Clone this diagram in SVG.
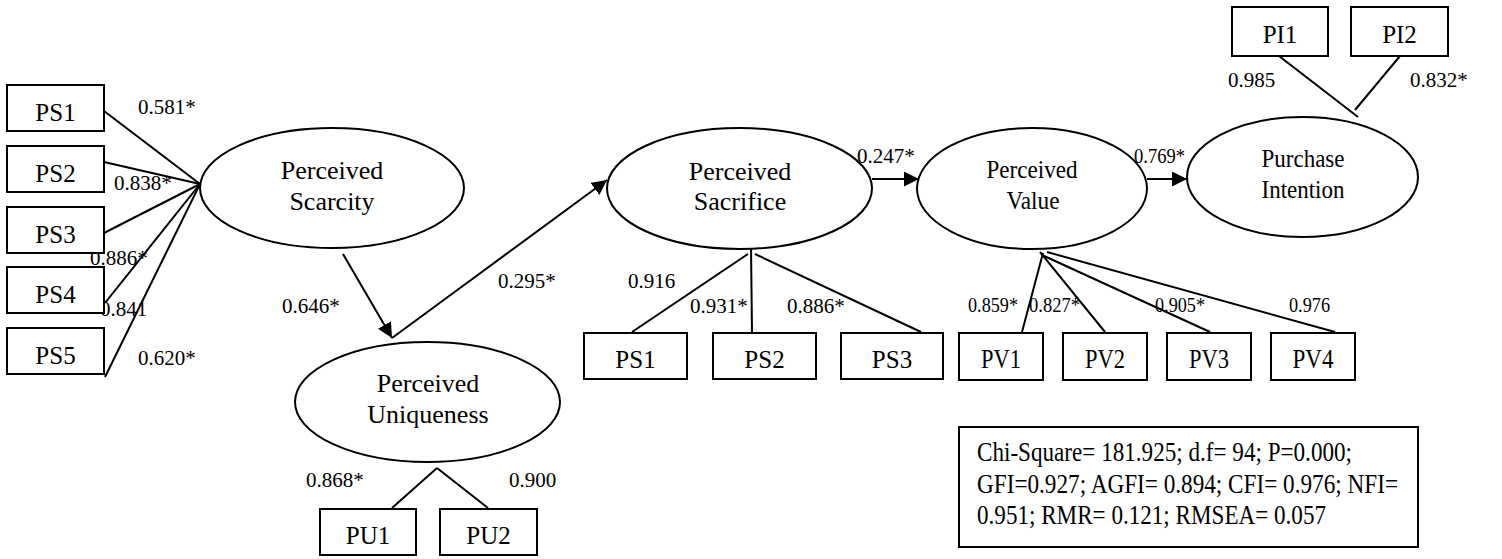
<svg xmlns="http://www.w3.org/2000/svg" width="1502" height="559" viewBox="0 0 1502 559">
  <style>
    .box { fill: #fff; stroke: #000; stroke-width: 2; }
    .lat { fill: #fff; stroke: #000; stroke-width: 2; }
    .ln { stroke: #000; stroke-width: 2; fill: none; }
    .arr { stroke: #000; stroke-width: 2; fill: none; marker-end: url(#head); }
    text { font-family: "Liberation Serif", "Times New Roman", serif; fill: #000; }
    .lbl { font-size: 25px; text-anchor: middle; }
    .lbl-n { font-size: 27px; text-anchor: middle; }
    .name { font-size: 26px; text-anchor: middle; }
    .coef { font-size: 21px; }
    .coef-n { font-size: 22px; }
    .fit { font-size: 27px; }
  </style>
  <defs>
    <marker id="head" markerUnits="userSpaceOnUse" markerWidth="15" markerHeight="15" refX="15" refY="7.5" orient="auto">
      <path d="M0,0 L15,7.5 L0,15 z" fill="#000"/>
    </marker>
  </defs>
  <rect width="1502" height="559" fill="#fff"/>

  <!-- loadings and structural paths -->
  <g id="connectors">
    <line class="ln" x1="104" y1="111" x2="200" y2="184"/>
    <line class="ln" x1="104" y1="162" x2="200" y2="184"/>
    <line class="ln" x1="104" y1="233" x2="200" y2="184"/>
    <line class="ln" x1="105" y1="303" x2="200" y2="184"/>
    <line class="ln" x1="105" y1="377" x2="200" y2="184"/>

    <line class="arr" x1="343" y1="254" x2="392" y2="338"/>
    <line class="arr" x1="392" y1="338" x2="607" y2="180"/>
    <line class="arr" x1="872" y1="179" x2="919" y2="179"/>
    <line class="arr" x1="1147" y1="179" x2="1187" y2="179"/>

    <line class="ln" x1="437" y1="468" x2="392" y2="508"/>
    <line class="ln" x1="437" y1="468" x2="488" y2="508"/>

    <line class="ln" x1="748" y1="254" x2="632" y2="332"/>
    <line class="ln" x1="751" y1="247" x2="752" y2="332"/>
    <line class="ln" x1="755" y1="254" x2="921" y2="332"/>

    <line class="ln" x1="1043" y1="253" x2="1022" y2="332"/>
    <line class="ln" x1="1040" y1="252" x2="1105" y2="332"/>
    <line class="ln" x1="1042" y1="255" x2="1210" y2="332"/>
    <line class="ln" x1="1047" y1="252" x2="1335" y2="332"/>

    <line class="ln" x1="1279" y1="56" x2="1358" y2="117"/>
    <line class="ln" x1="1400" y1="56" x2="1355" y2="110"/>
  </g>

  <!-- coefficients -->
  <g id="coefficients" class="coef">
    <text x="138" y="114">0.581*</text>
    <text x="114" y="190">0.838*</text>
    <text x="90" y="265">0.886*</text>
    <text x="100" y="316">0.841</text>
    <text x="138" y="365">0.620*</text>
    <text x="282" y="313">0.646*</text>
    <text x="498" y="288">0.295*</text>
    <text x="306" y="487">0.868*</text>
    <text x="509" y="487">0.900</text>
    <text x="628" y="288">0.916</text>
    <text x="690" y="313">0.931*</text>
    <text x="787" y="313">0.886*</text>
    <text x="857" y="163">0.247*</text>
    <text x="1134" y="163" textLength="51" lengthAdjust="spacingAndGlyphs">0.769*</text>
    <text x="1228" y="87">0.985</text>
    <text x="1410" y="87">0.832*</text>
    <text class="coef-n" x="968" y="312" textLength="50" lengthAdjust="spacingAndGlyphs">0.859*</text>
    <text class="coef-n" x="1029" y="312" textLength="51" lengthAdjust="spacingAndGlyphs">0.827*</text>
    <text class="coef-n" x="1155" y="312" textLength="50" lengthAdjust="spacingAndGlyphs">0.905*</text>
    <text class="coef-n" x="1289" y="312" textLength="41" lengthAdjust="spacingAndGlyphs">0.976</text>
  </g>

  <!-- Perceived Scarcity indicators -->
  <g id="ps1"><rect class="box" x="7" y="85" width="97" height="46"/><text class="lbl" x="55.5" y="121">PS1</text></g>
  <g id="ps2"><rect class="box" x="7" y="146" width="97" height="46"/><text class="lbl" x="55.5" y="182">PS2</text></g>
  <g id="ps3"><rect class="box" x="7" y="207" width="97" height="46"/><text class="lbl" x="55.5" y="243">PS3</text></g>
  <g id="ps4"><rect class="box" x="7" y="267" width="97" height="46"/><text class="lbl" x="55.5" y="303">PS4</text></g>
  <g id="ps5"><rect class="box" x="7" y="328" width="97" height="46"/><text class="lbl" x="55.5" y="364">PS5</text></g>

  <!-- latent constructs -->
  <g id="scarcity">
    <ellipse class="lat" cx="332" cy="188" rx="132" ry="60"/>
    <text class="name" x="332" y="179">Perceived</text>
    <text class="name" x="332" y="210">Scarcity</text>
  </g>
  <g id="uniqueness">
    <ellipse class="lat" cx="427.5" cy="402" rx="132.5" ry="60"/>
    <text class="name" x="428" y="392">Perceived</text>
    <text class="name" x="428" y="423">Uniqueness</text>
  </g>
  <g id="sacrifice">
    <ellipse class="lat" cx="739.5" cy="188.5" rx="132.5" ry="60.5"/>
    <text class="name" x="740" y="180">Perceived</text>
    <text class="name" x="740" y="210">Sacrifice</text>
  </g>
  <g id="value">
    <ellipse class="lat" cx="1032" cy="188.5" rx="115" ry="60.5"/>
    <text class="name" x="1032" y="178" textLength="91" lengthAdjust="spacingAndGlyphs">Perceived</text>
    <text class="name" x="1033" y="209" textLength="53" lengthAdjust="spacingAndGlyphs">Value</text>
  </g>
  <g id="intention">
    <ellipse class="lat" cx="1302.5" cy="177" rx="115.5" ry="60"/>
    <text class="name" x="1303" y="167" textLength="83" lengthAdjust="spacingAndGlyphs">Purchase</text>
    <text class="name" x="1303" y="198" textLength="83" lengthAdjust="spacingAndGlyphs">Intention</text>
  </g>

  <!-- Perceived Uniqueness indicators -->
  <g id="pu1"><rect class="box" x="320" y="509" width="96" height="46"/><text class="lbl" x="368" y="544">PU1</text></g>
  <g id="pu2"><rect class="box" x="440" y="509" width="97" height="46"/><text class="lbl" x="488.5" y="544">PU2</text></g>

  <!-- Perceived Sacrifice indicators -->
  <g id="sac1"><rect class="box" x="584" y="333" width="103" height="46"/><text class="lbl" x="635.5" y="368">PS1</text></g>
  <g id="sac2"><rect class="box" x="713" y="333" width="103" height="46"/><text class="lbl" x="764.5" y="368">PS2</text></g>
  <g id="sac3"><rect class="box" x="841" y="333" width="102" height="46"/><text class="lbl" x="892" y="368">PS3</text></g>

  <!-- Perceived Value indicators -->
  <g id="pv1"><rect class="box" x="959" y="333" width="84" height="47"/><text class="lbl-n" x="1001" y="368" textLength="40" lengthAdjust="spacingAndGlyphs">PV1</text></g>
  <g id="pv2"><rect class="box" x="1063" y="333" width="84" height="47"/><text class="lbl-n" x="1105" y="368" textLength="40" lengthAdjust="spacingAndGlyphs">PV2</text></g>
  <g id="pv3"><rect class="box" x="1167" y="333" width="84" height="47"/><text class="lbl-n" x="1209" y="368" textLength="40" lengthAdjust="spacingAndGlyphs">PV3</text></g>
  <g id="pv4"><rect class="box" x="1271" y="333" width="84" height="47"/><text class="lbl-n" x="1313" y="368" textLength="41" lengthAdjust="spacingAndGlyphs">PV4</text></g>

  <!-- Purchase Intention indicators -->
  <g id="pi1"><rect class="box" x="1232" y="7" width="96" height="49"/><text class="lbl" x="1280" y="43">PI1</text></g>
  <g id="pi2"><rect class="box" x="1351" y="7" width="97" height="49"/><text class="lbl" x="1399.5" y="43">PI2</text></g>

  <!-- model fit summary -->
  <g id="fit">
    <rect class="box" x="959" y="427" width="459" height="120"/>
    <text class="fit" x="977" y="461" textLength="375" lengthAdjust="spacingAndGlyphs">Chi-Square= 181.925; d.f= 94; P=0.000;</text>
    <text class="fit" x="977" y="493" textLength="421" lengthAdjust="spacingAndGlyphs">GFI=0.927; AGFI= 0.894; CFI= 0.976; NFI=</text>
    <text class="fit" x="977" y="524" textLength="349" lengthAdjust="spacingAndGlyphs">0.951; RMR= 0.121; RMSEA= 0.057</text>
  </g>
</svg>
